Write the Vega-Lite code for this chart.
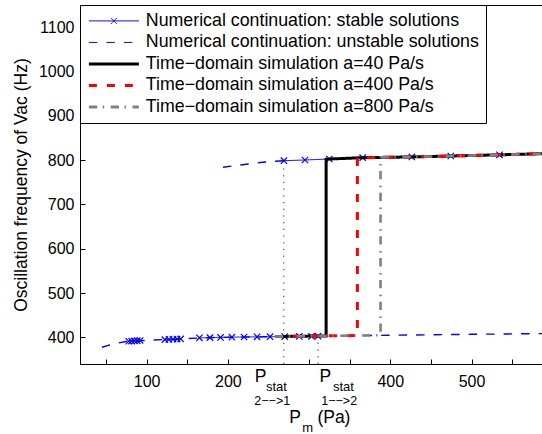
{
  "$schema": "https://vega.github.io/schema/vega-lite/v6.json",
  "width": 463,
  "height": 359,
  "autosize": {"type": "none"},
  "padding": {"left": 80, "top": 5, "right": 0, "bottom": 70},
  "background": "white",
  "config": {
    "view": {"stroke": "black", "strokeWidth": 1},
    "font": "Liberation Sans",
    "axis": {
      "domainColor": "black", "tickColor": "black", "labelColor": "black", "titleColor": "black",
      "labelFont": "Liberation Sans", "titleFont": "Liberation Sans",
      "labelFontSize": 16, "titleFontSize": 17.5, "titleFontWeight": "normal",
      "grid": false, "tickSize": -5, "domainWidth": 1, "tickWidth": 1
    }
  },
  "datasets": {
    "curves": [
      {"series": "Numerical continuation: unstable solutions", "seg": "lo", "i": 0, "P": 45, "f": 377.7},
      {"series": "Numerical continuation: unstable solutions", "seg": "lo", "i": 1, "P": 55, "f": 383},
      {"series": "Numerical continuation: unstable solutions", "seg": "lo", "i": 2, "P": 65, "f": 387.5},
      {"series": "Numerical continuation: unstable solutions", "seg": "lo", "i": 3, "P": 75, "f": 390.8},
      {"series": "Numerical continuation: unstable solutions", "seg": "lo", "i": 4, "P": 90, "f": 392.5},
      {"series": "Numerical continuation: unstable solutions", "seg": "lo", "i": 5, "P": 110, "f": 394.3},
      {"series": "Numerical continuation: unstable solutions", "seg": "lo", "i": 6, "P": 130, "f": 395.7},
      {"series": "Numerical continuation: unstable solutions", "seg": "lo", "i": 7, "P": 150, "f": 397.3},
      {"series": "Numerical continuation: unstable solutions", "seg": "lo", "i": 8, "P": 170, "f": 399.2},
      {"series": "Numerical continuation: unstable solutions", "seg": "lo", "i": 9, "P": 210, "f": 400.6},
      {"series": "Numerical continuation: unstable solutions", "seg": "lo", "i": 10, "P": 260, "f": 401.7},
      {"series": "Numerical continuation: unstable solutions", "seg": "lo", "i": 11, "P": 311, "f": 402.7},
      {"series": "Numerical continuation: unstable solutions", "seg": "lo", "i": 12, "P": 360, "f": 403.8},
      {"series": "Numerical continuation: unstable solutions", "seg": "lo", "i": 13, "P": 400, "f": 404.8},
      {"series": "Numerical continuation: unstable solutions", "seg": "lo", "i": 14, "P": 450, "f": 406},
      {"series": "Numerical continuation: unstable solutions", "seg": "lo", "i": 15, "P": 500, "f": 407},
      {"series": "Numerical continuation: unstable solutions", "seg": "lo", "i": 16, "P": 550, "f": 407.9},
      {"series": "Numerical continuation: unstable solutions", "seg": "lo", "i": 17, "P": 588, "f": 408.6},
      {"series": "Numerical continuation: unstable solutions", "seg": "up", "i": 0, "P": 194, "f": 783.8},
      {"series": "Numerical continuation: unstable solutions", "seg": "up", "i": 1, "P": 210, "f": 787.8},
      {"series": "Numerical continuation: unstable solutions", "seg": "up", "i": 2, "P": 225, "f": 791.3},
      {"series": "Numerical continuation: unstable solutions", "seg": "up", "i": 3, "P": 240, "f": 794.5},
      {"series": "Numerical continuation: unstable solutions", "seg": "up", "i": 4, "P": 255, "f": 797},
      {"series": "Numerical continuation: unstable solutions", "seg": "up", "i": 5, "P": 269, "f": 798.7},

      {"series": "Numerical continuation: stable solutions", "seg": "s1", "i": 0, "P": 78, "f": 391.3},
      {"series": "Numerical continuation: stable solutions", "seg": "s1", "i": 1, "P": 81.5, "f": 391.8},
      {"series": "Numerical continuation: stable solutions", "seg": "s1", "i": 2, "P": 85, "f": 392.2},
      {"series": "Numerical continuation: stable solutions", "seg": "s1", "i": 3, "P": 88.5, "f": 392.6},
      {"series": "Numerical continuation: stable solutions", "seg": "s1", "i": 4, "P": 92, "f": 393},
      {"series": "Numerical continuation: stable solutions", "seg": "s2", "i": 0, "P": 122.5, "f": 395},
      {"series": "Numerical continuation: stable solutions", "seg": "s2", "i": 1, "P": 127.5, "f": 395.4},
      {"series": "Numerical continuation: stable solutions", "seg": "s2", "i": 2, "P": 132.5, "f": 395.8},
      {"series": "Numerical continuation: stable solutions", "seg": "s2", "i": 3, "P": 137.5, "f": 396.2},
      {"series": "Numerical continuation: stable solutions", "seg": "s2", "i": 4, "P": 142, "f": 396.6},
      {"series": "Numerical continuation: stable solutions", "seg": "s3", "i": 0, "P": 165, "f": 399},
      {"series": "Numerical continuation: stable solutions", "seg": "s3", "i": 1, "P": 178, "f": 399.5},
      {"series": "Numerical continuation: stable solutions", "seg": "s3", "i": 2, "P": 191, "f": 400},
      {"series": "Numerical continuation: stable solutions", "seg": "s3", "i": 3, "P": 205, "f": 400.5},
      {"series": "Numerical continuation: stable solutions", "seg": "s3", "i": 4, "P": 220, "f": 401},
      {"series": "Numerical continuation: stable solutions", "seg": "s3", "i": 5, "P": 236, "f": 401.3},
      {"series": "Numerical continuation: stable solutions", "seg": "s3", "i": 6, "P": 252, "f": 401.6},
      {"series": "Numerical continuation: stable solutions", "seg": "s3", "i": 7, "P": 270, "f": 401.9},
      {"series": "Numerical continuation: stable solutions", "seg": "s3", "i": 8, "P": 288, "f": 402.2},
      {"series": "Numerical continuation: stable solutions", "seg": "s3", "i": 9, "P": 303, "f": 402.5},
      {"series": "Numerical continuation: stable solutions", "seg": "s3", "i": 10, "P": 311, "f": 402.7},
      {"series": "Numerical continuation: stable solutions", "seg": "s4", "i": 0, "P": 269, "f": 798.7},
      {"series": "Numerical continuation: stable solutions", "seg": "s4", "i": 1, "P": 295, "f": 800.3},
      {"series": "Numerical continuation: stable solutions", "seg": "s4", "i": 2, "P": 325, "f": 802.5},
      {"series": "Numerical continuation: stable solutions", "seg": "s4", "i": 3, "P": 366, "f": 805.5},
      {"series": "Numerical continuation: stable solutions", "seg": "s4", "i": 4, "P": 426.5, "f": 807.2},
      {"series": "Numerical continuation: stable solutions", "seg": "s4", "i": 5, "P": 474.5, "f": 809.3},
      {"series": "Numerical continuation: stable solutions", "seg": "s4", "i": 6, "P": 534.5, "f": 812},
      {"series": "Numerical continuation: stable solutions", "seg": "s4", "i": 7, "P": 588, "f": 814.5},

      {"series": "Time−domain simulation a=40 Pa/s", "seg": "b", "i": 0, "P": 258, "f": 402},
      {"series": "Time−domain simulation a=40 Pa/s", "seg": "b", "i": 1, "P": 290, "f": 402.7},
      {"series": "Time−domain simulation a=40 Pa/s", "seg": "b", "i": 2, "P": 321, "f": 403.4},
      {"series": "Time−domain simulation a=40 Pa/s", "seg": "b", "i": 3, "P": 321, "f": 802.2},
      {"series": "Time−domain simulation a=40 Pa/s", "seg": "b", "i": 4, "P": 366, "f": 805.5},
      {"series": "Time−domain simulation a=40 Pa/s", "seg": "b", "i": 5, "P": 426.5, "f": 807.2},
      {"series": "Time−domain simulation a=40 Pa/s", "seg": "b", "i": 6, "P": 474.5, "f": 809.3},
      {"series": "Time−domain simulation a=40 Pa/s", "seg": "b", "i": 7, "P": 534.5, "f": 812},
      {"series": "Time−domain simulation a=40 Pa/s", "seg": "b", "i": 8, "P": 588, "f": 814.5},

      {"series": "Time−domain simulation a=400 Pa/s", "seg": "r", "i": 0, "P": 258, "f": 402},
      {"series": "Time−domain simulation a=400 Pa/s", "seg": "r", "i": 1, "P": 311, "f": 403.2},
      {"series": "Time−domain simulation a=400 Pa/s", "seg": "r", "i": 2, "P": 359.5, "f": 404.2},
      {"series": "Time−domain simulation a=400 Pa/s", "seg": "r", "i": 3, "P": 359.5, "f": 805.2},
      {"series": "Time−domain simulation a=400 Pa/s", "seg": "r", "i": 4, "P": 426.5, "f": 807.2},
      {"series": "Time−domain simulation a=400 Pa/s", "seg": "r", "i": 5, "P": 474.5, "f": 809.3},
      {"series": "Time−domain simulation a=400 Pa/s", "seg": "r", "i": 6, "P": 534.5, "f": 812},
      {"series": "Time−domain simulation a=400 Pa/s", "seg": "r", "i": 7, "P": 588, "f": 814.5},

      {"series": "Time−domain simulation a=800 Pa/s", "seg": "g", "i": 0, "P": 258, "f": 402},
      {"series": "Time−domain simulation a=800 Pa/s", "seg": "g", "i": 1, "P": 311, "f": 403.2},
      {"series": "Time−domain simulation a=800 Pa/s", "seg": "g", "i": 2, "P": 388, "f": 405},
      {"series": "Time−domain simulation a=800 Pa/s", "seg": "g", "i": 3, "P": 388, "f": 806.3},
      {"series": "Time−domain simulation a=800 Pa/s", "seg": "g", "i": 4, "P": 426.5, "f": 807.2},
      {"series": "Time−domain simulation a=800 Pa/s", "seg": "g", "i": 5, "P": 474.5, "f": 809.3},
      {"series": "Time−domain simulation a=800 Pa/s", "seg": "g", "i": 6, "P": 534.5, "f": 812},
      {"series": "Time−domain simulation a=800 Pa/s", "seg": "g", "i": 7, "P": 588, "f": 814.5}
    ],
    "markers": [
      {"P": 78, "f": 391.3}, {"P": 81.5, "f": 391.8}, {"P": 85, "f": 392.2}, {"P": 88.5, "f": 392.6}, {"P": 92, "f": 393},
      {"P": 122.5, "f": 395}, {"P": 127.5, "f": 395.4}, {"P": 132.5, "f": 395.8}, {"P": 137.5, "f": 396.2}, {"P": 142, "f": 396.6},
      {"P": 165, "f": 399}, {"P": 178, "f": 399.5}, {"P": 191, "f": 400}, {"P": 205, "f": 400.5}, {"P": 220, "f": 401},
      {"P": 236, "f": 401.3}, {"P": 252, "f": 401.6}, {"P": 270, "f": 401.9}, {"P": 288, "f": 402.2}, {"P": 303, "f": 402.5}, {"P": 311, "f": 402.7},
      {"P": 269, "f": 798.7}, {"P": 295, "f": 800.3}, {"P": 325, "f": 802.5}, {"P": 366, "f": 805.5}, {"P": 426.5, "f": 807.2},
      {"P": 474.5, "f": 809.3}, {"P": 534.5, "f": 812}
    ],
    "dotted": [
      {"P": 268.9, "f1": 340, "f2": 793},
      {"P": 311, "f1": 340, "f2": 396}
    ],
    "notes": [
      {"kind": "P", "P": 240.3, "f": 340, "t": "P"},
      {"kind": "P", "P": 319.9, "f": 340, "t": "P"},
      {"kind": "stat", "P": 259.9, "f": 340, "t": "stat"},
      {"kind": "stat", "P": 342.3, "f": 340, "t": "stat"},
      {"kind": "dir", "P": 254.7, "f": 340, "t": "2−−>1"},
      {"kind": "dir", "P": 337.1, "f": 340, "t": "1−−>2"},
      {"kind": "title", "P": 282.8, "f": 340, "t": "P"},
      {"kind": "title", "P": 330.6, "f": 340, "t": "(Pa)"},
      {"kind": "sub", "P": 298.4, "f": 340, "t": "m"}
    ]
  },
  "layer": [
    {
      "data": {"name": "curves"},
      "transform": [{"filter": "datum.series === 'Numerical continuation: unstable solutions'"}],
      "mark": {"type": "line", "strokeWidth": 1.4, "strokeCap": "butt"},
      "encoding": {
        "x": {"field": "P", "type": "quantitative", "scale": {"domain": [18, 588], "nice": false, "zero": false},
              "axis": {"orient": "bottom", "title": null, "values": [50, 100, 150, 200, 300, 350, 400, 450, 500, 550],
                       "labelExpr": "indexof([100, 200, 400, 500], datum.value) >= 0 ? datum.label : ''",
                       "labelPadding": 14, "labelFlush": false}},
        "y": {"field": "f", "type": "quantitative", "scale": {"domain": [340, 1150], "nice": false, "zero": false},
              "axis": {"orient": "left", "title": "Oscillation frequency of Vac (Hz)", "values": [400, 500, 600, 700, 800, 900, 1000, 1100],
                       "format": "d", "labelPadding": 11, "titlePadding": 8}},
        "order": {"field": "i", "type": "quantitative"},
        "detail": {"field": "seg"},
        "color": {
          "field": "series", "type": "nominal",
          "scale": {
            "domain": ["Numerical continuation: stable solutions", "Numerical continuation: unstable solutions", "Time−domain simulation a=40 Pa/s", "Time−domain simulation a=400 Pa/s", "Time−domain simulation a=800 Pa/s"],
            "range": ["#0000ff", "#0000ff", "#000000", "#ff0000", "#808080"]
          },
          "legend": {
            "title": null, "orient": "none", "legendX": 0, "legendY": 0, "padding": 7,
            "strokeColor": "black", "fillColor": "white", "cornerRadius": 0,
            "labelFont": "Liberation Sans", "labelFontSize": 17.8, "labelColor": "black", "labelLimit": 600,
            "symbolType": "M-5,0H5", "symbolSize": 100, "symbolOffset": 18, "labelOffset": 23, "rowPadding": 2.5,
            "encode": {"symbols": {"update": {
              "shape": {"signal": "datum.value === 'Numerical continuation: stable solutions' ? 'M-5,0H5M-0.6,-0.6L0.6,0.6M-0.6,0.6L0.6,-0.6' : 'M-5,0H5'"},
              "strokeWidth": {"signal": "test(/Time/, datum.value) ? 3 : 1"}
            }}}
          }
        },
        "strokeDash": {
          "field": "series", "type": "nominal",
          "scale": {
            "domain": ["Numerical continuation: stable solutions", "Numerical continuation: unstable solutions", "Time−domain simulation a=40 Pa/s", "Time−domain simulation a=400 Pa/s", "Time−domain simulation a=800 Pa/s"],
            "range": [[1, 0], [8.5, 9], [1, 0], [8, 10], [8.3, 5.5, 1.5, 6.5]]
          },
          "legend": {
            "title": null, "orient": "none", "legendX": 0, "legendY": 0, "padding": 7,
            "strokeColor": "black", "fillColor": "white", "cornerRadius": 0,
            "labelFont": "Liberation Sans", "labelFontSize": 17.8, "labelColor": "black", "labelLimit": 600,
            "symbolType": "M-5,0H5", "symbolSize": 100, "symbolOffset": 18, "labelOffset": 23, "rowPadding": 2.5,
            "encode": {"symbols": {"update": {
              "shape": {"signal": "datum.value === 'Numerical continuation: stable solutions' ? 'M-5,0H5M-0.6,-0.6L0.6,0.6M-0.6,0.6L0.6,-0.6' : 'M-5,0H5'"},
              "strokeWidth": {"signal": "test(/Time/, datum.value) ? 3 : 1"}
            }}}
          }
        }
      }
    },
    {
      "data": {"name": "curves"},
      "transform": [{"filter": "datum.series === 'Numerical continuation: stable solutions'"}],
      "mark": {"type": "line", "strokeWidth": 1},
      "encoding": {
        "x": {"field": "P", "type": "quantitative"},
        "y": {"field": "f", "type": "quantitative"},
        "order": {"field": "i", "type": "quantitative"},
        "detail": {"field": "seg"},
        "color": {"field": "series", "type": "nominal"},
        "strokeDash": {"field": "series", "type": "nominal"}
      }
    },
    {
      "data": {"name": "markers"},
      "mark": {"type": "point", "shape": "M-1,-1L1,1M-1,1L1,-1", "filled": false, "stroke": "#0000ff", "strokeWidth": 1.2, "size": 40, "opacity": 1},
      "encoding": {
        "x": {"field": "P", "type": "quantitative"},
        "y": {"field": "f", "type": "quantitative"}
      }
    },
    {
      "data": {"name": "curves"},
      "transform": [{"filter": "datum.series === 'Time−domain simulation a=40 Pa/s'"}],
      "mark": {"type": "line", "strokeWidth": 3},
      "encoding": {
        "x": {"field": "P", "type": "quantitative"},
        "y": {"field": "f", "type": "quantitative"},
        "order": {"field": "i", "type": "quantitative"},
        "color": {"field": "series", "type": "nominal"},
        "strokeDash": {"field": "series", "type": "nominal"}
      }
    },
    {
      "data": {"name": "curves"},
      "transform": [{"filter": "datum.series === 'Time−domain simulation a=400 Pa/s'"}],
      "mark": {"type": "line", "strokeWidth": 3, "strokeCap": "butt"},
      "encoding": {
        "x": {"field": "P", "type": "quantitative"},
        "y": {"field": "f", "type": "quantitative"},
        "order": {"field": "i", "type": "quantitative"},
        "color": {"field": "series", "type": "nominal"},
        "strokeDash": {"field": "series", "type": "nominal"}
      }
    },
    {
      "data": {"name": "curves"},
      "transform": [{"filter": "datum.series === 'Time−domain simulation a=800 Pa/s'"}],
      "mark": {"type": "line", "strokeWidth": 2.6, "strokeCap": "butt"},
      "encoding": {
        "x": {"field": "P", "type": "quantitative"},
        "y": {"field": "f", "type": "quantitative"},
        "order": {"field": "i", "type": "quantitative"},
        "color": {"field": "series", "type": "nominal"},
        "strokeDash": {"field": "series", "type": "nominal"}
      }
    },
    {
      "data": {"name": "dotted"},
      "mark": {"type": "rule", "color": "#222222", "strokeWidth": 1, "strokeDash": [1.2, 5.5]},
      "encoding": {
        "x": {"field": "P", "type": "quantitative"},
        "y": {"field": "f1", "type": "quantitative"},
        "y2": {"field": "f2"}
      }
    },
    {
      "data": {"name": "notes"},
      "transform": [{"filter": "datum.kind === 'P'"}],
      "mark": {"type": "text", "font": "Liberation Sans", "fontSize": 17.5, "baseline": "middle", "align": "center", "dy": 13.3, "color": "black"},
      "encoding": {
        "x": {"field": "P", "type": "quantitative"},
        "y": {"field": "f", "type": "quantitative"},
        "text": {"field": "t"}
      }
    },
    {
      "data": {"name": "notes"},
      "transform": [{"filter": "datum.kind === 'stat'"}],
      "mark": {"type": "text", "font": "Liberation Sans", "fontSize": 13, "baseline": "middle", "align": "center", "dy": 23.3, "color": "black"},
      "encoding": {
        "x": {"field": "P", "type": "quantitative"},
        "y": {"field": "f", "type": "quantitative"},
        "text": {"field": "t"}
      }
    },
    {
      "data": {"name": "notes"},
      "transform": [{"filter": "datum.kind === 'dir'"}],
      "mark": {"type": "text", "font": "Liberation Sans", "fontSize": 12.5, "baseline": "middle", "align": "center", "dy": 37, "color": "black"},
      "encoding": {
        "x": {"field": "P", "type": "quantitative"},
        "y": {"field": "f", "type": "quantitative"},
        "text": {"field": "t"}
      }
    },
    {
      "data": {"name": "notes"},
      "transform": [{"filter": "datum.kind === 'title'"}],
      "mark": {"type": "text", "font": "Liberation Sans", "fontSize": 17.5, "baseline": "middle", "align": "center", "dy": 54, "color": "black"},
      "encoding": {
        "x": {"field": "P", "type": "quantitative"},
        "y": {"field": "f", "type": "quantitative"},
        "text": {"field": "t"}
      }
    },
    {
      "data": {"name": "notes"},
      "transform": [{"filter": "datum.kind === 'sub'"}],
      "mark": {"type": "text", "font": "Liberation Sans", "fontSize": 13, "baseline": "middle", "align": "center", "dy": 63.5, "color": "black"},
      "encoding": {
        "x": {"field": "P", "type": "quantitative"},
        "y": {"field": "f", "type": "quantitative"},
        "text": {"field": "t"}
      }
    }
  ]
}
